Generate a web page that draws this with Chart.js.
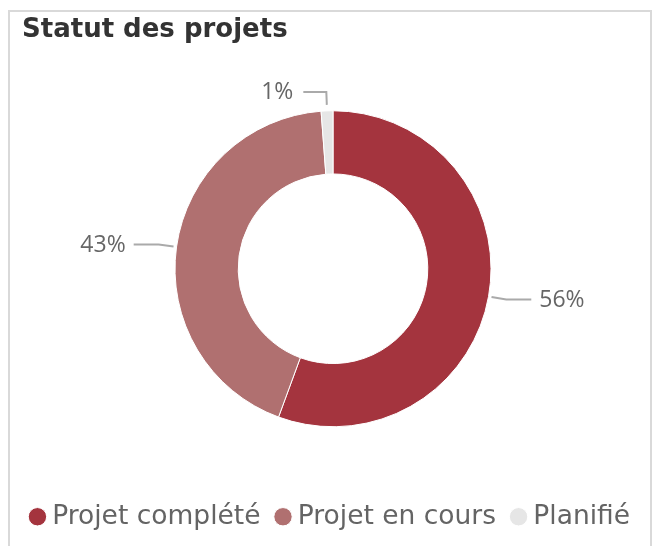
<!DOCTYPE html>
<html>
<head>
<meta charset="utf-8">
<script src="https://cdn.jsdelivr.net/npm/chart.js@4.4.1/dist/chart.umd.min.js"></script>
<style>
  body { margin: 0; background: #fff; }
  #card { position: absolute; left: 8px; top: 10px; width: 640px; height: 560px; border: 2px solid #d9d9d9; }
  #wrap { position: absolute; left: 0; top: 0; width: 656px; height: 546px; }
  #title { position: absolute; left: 22px; top: 13px; font: bold 26px/30px "DejaVu Sans", sans-serif; color: #333333; white-space: nowrap; }
</style>
</head>
<body>
<div id="card"></div>
<div id="wrap"><canvas id="statusChart" width="656" height="546"></canvas></div>
<div id="title">Statut des projets</div>
<script>
var categories = ['Projet complété', 'Projet en cours', 'Planifié'];
var shares = [55.6, 43.2, 1.2];
var sliceColors = ['#A4343E', '#B07070', '#E6E6E6'];

// labels outside the ring, with a small leader line
var outsideLabels = {
    id: 'outsideLabels',
    afterDatasetsDraw: function (chart) {
        var ctx = chart.ctx;
        var meta = chart.getDatasetMeta(0);
        ctx.save();
        meta.data.forEach(function (arc, i) {
            var mid = (arc.startAngle + arc.endAngle) / 2;
            var r = arc.outerRadius;
            var cos = Math.cos(mid), sin = Math.sin(mid);
            var dir = cos < 0 ? -1 : 1;
            var isTop = Math.abs(sin) > 0.9;
            var start = isTop ? 6 : 3;
            var ext = isTop ? 19 : 18;
            var x0 = arc.x + cos * (r + start), y0 = arc.y + sin * (r + start);
            var x1 = arc.x + cos * (r + ext), y1 = arc.y + sin * (r + ext);
            var x2 = x1 + dir * (isTop ? 23 : 25);
            ctx.strokeStyle = '#aaaaaa';
            ctx.lineWidth = 2;
            ctx.beginPath();
            ctx.moveTo(x0, y0);
            ctx.lineTo(x1, y1);
            ctx.lineTo(x2, y1);
            ctx.stroke();
            ctx.fillStyle = '#666666';
            ctx.font = '23px "Open Sans", sans-serif';
            ctx.textBaseline = 'middle';
            ctx.textAlign = dir < 0 ? 'right' : 'left';
            ctx.fillText(Math.round(shares[i]) + '%', x2 + dir * (isTop ? 10 : 8), y1 + 1);
        });
        ctx.restore();
    }
};

new Chart(document.getElementById('statusChart'), {
    type: 'doughnut',
    data: {
        labels: categories,
        datasets: [{
            data: shares,
            backgroundColor: sliceColors,
            borderColor: '#ffffff',
            borderWidth: 1,
            radius: 158,
            cutout: '60%'
        }]
    },
    options: {
        responsive: false,
        animation: false,
        layout: { padding: { top: 55, left: 14, right: 4, bottom: 6 } },
        plugins: {
            title: { display: false },
            legend: {
                position: 'bottom',
                labels: {
                    usePointStyle: true,
                    pointStyle: 'circle',
                    boxWidth: 3,
                    boxHeight: 13,
                    padding: 21,
                    color: '#646464',
                    font: { family: '"DejaVu Sans"', size: 26.5 }
                }
            },
            tooltip: { enabled: false }
        }
    },
    plugins: [outsideLabels]
});
</script>
</body>
</html>
